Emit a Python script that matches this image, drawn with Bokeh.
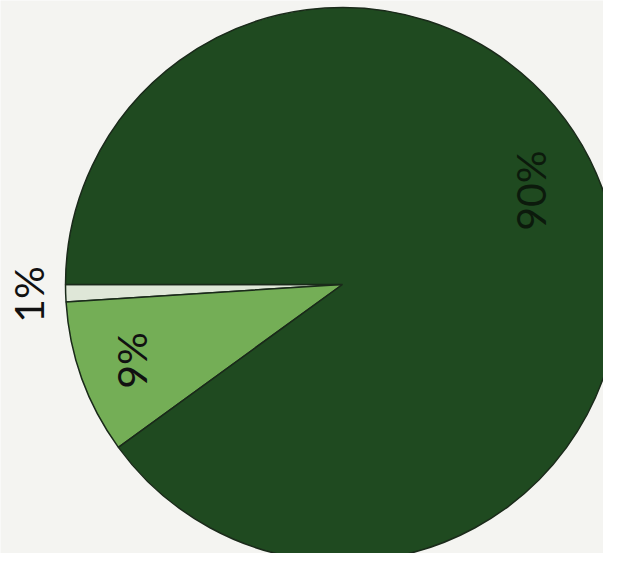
import math
from bokeh.plotting import figure
from bokeh.models import Range1d, ColumnDataSource
from bokeh.core.properties import value
from bokeh.embed import file_html
from bokeh.resources import INLINE

# ---- data ----
categories = ["A", "B", "C"]
shares = [1, 9, 90]
labels = ["1%", "9%", "90%"]
colors = ["#dfe7d8", "#74ae56", "#1f4a20"]
label_colors = ["#111111", "#111111", "#0c1a0c"]

# ---- layout ----
W, H = 603, 553
cx, cy, R = 342, H - 284, 277
start_deg = 180.0
label_rf = [1.135, 0.81, 0.76]
label_shift = [0.0, 0.0, 8.5]

starts, ends, mids = [], [], []
a = start_deg
total = sum(shares)
for s in shares:
    b = a + 360.0 * s / total
    starts.append(math.radians(a))
    ends.append(math.radians(b))
    mids.append((a + b) / 2)
    a = b

lx = [cx + rf * R * math.cos(math.radians(m + sh)) for m, rf, sh in zip(mids, label_rf, label_shift)]
ly = [cy + rf * R * math.sin(math.radians(m + sh)) for m, rf, sh in zip(mids, label_rf, label_shift)]

src = ColumnDataSource(dict(cat=categories, start=starts, end=ends, color=colors,
                            lx=lx, ly=ly, label=labels, lcolor=label_colors))

p = figure(width=W, height=H, output_backend="svg", toolbar_location=None,
           x_range=Range1d(0, W), y_range=Range1d(0, H), min_border=0,
           background_fill_color="#f4f4f1", border_fill_color="#f4f4f1")
p.axis.visible = False
p.grid.visible = False
p.outline_line_color = None

p.wedge(x=cx, y=cy, radius=R, start_angle="start", end_angle="end",
        fill_color="color", line_color="#1a2a1a", line_width=1.5, source=src)

p.text(x="lx", y="ly", text="label", angle=math.pi / 2, text_align="center",
       text_baseline="middle", text_font=value("Lato"), text_font_size="41px",
       text_color="lcolor", source=src)

open("out.html", "w").write(file_html(p, INLINE))
